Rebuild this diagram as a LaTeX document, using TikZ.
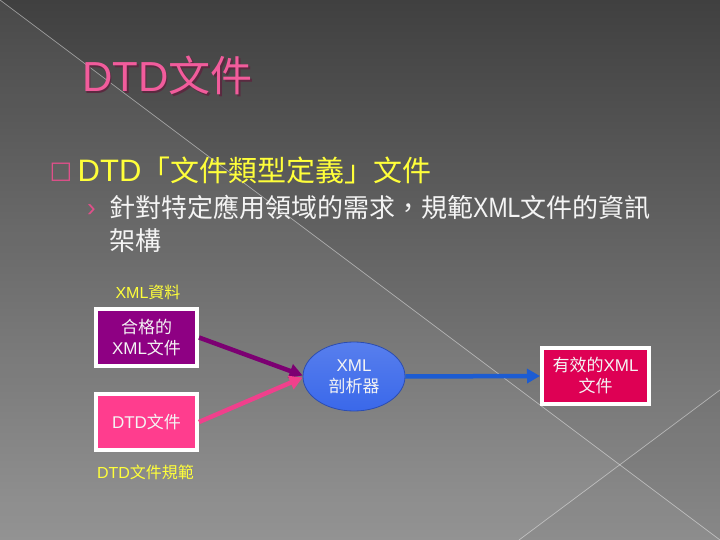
\documentclass[tikz,border=0pt]{standalone}
\usepackage{fontspec}
\setmainfont{Liberation Sans}
\newfontfamily\cjk{Noto Sans CJK TC}
\newfontfamily\dejavu{DejaVu Sans}
\usetikzlibrary{arrows.meta,shapes.geometric}
\definecolor{bgtop}{HTML}{404040}
\definecolor{bgbot}{HTML}{8E8E8E}
\definecolor{titlepink}{HTML}{F25C9C}
\definecolor{titleshadow}{HTML}{5A2A40}
\definecolor{bulletpink}{HTML}{E0508A}
\definecolor{yellowtxt}{HTML}{FFFF3A}
\definecolor{whitetxt}{HTML}{F4F4F4}
\definecolor{purplebox}{HTML}{8E0083}
\definecolor{pinkbox}{HTML}{FF3D8E}
\definecolor{crimsonbox}{HTML}{DE0054}
\definecolor{ellfill}{HTML}{3A68EA}
\definecolor{elledge}{HTML}{2C4DB0}
\definecolor{purplearrow}{HTML}{7C0072}
\definecolor{pinkarrow}{HTML}{F0408C}
\definecolor{bluearrow}{HTML}{1C5CD2}
\tikzset{
  boxnode/.style={draw=white, line width=4pt, inner sep=0pt, align=center,
    text=whitetxt, font=\fontsize{17}{21}\selectfont},
  lbl/.style={inner sep=0pt, text=yellowtxt, font=\fontsize{16}{20}\selectfont},
  conn/.style={line width=4.5pt, -{Triangle[length=13pt,width=14pt]}},
  bgline/.style={draw=white, draw opacity=0.45, line width=0.7pt}
}
\begin{document}
\begin{tikzpicture}[x=1pt,y=-1pt]
\useasboundingbox (0,0) rectangle (720,540);
% background
\shade[top color=bgtop, bottom color=bgbot] (0,0) rectangle (720,540);
\fill[white, opacity=0.05] (0,0) -- (720,540) -- (0,540) -- cycle;
\fill[black, opacity=0.04] (720,390) -- (720,540) -- (519,540) -- cycle;
\coordinate (d1a) at (0,0);
\coordinate (d1b) at (720,540);
\coordinate (d2a) at (720,390);
\coordinate (d2b) at (519,540);
\draw[bgline] (d1a) -- (d1b);
\draw[bgline] (d2a) -- (d2b);
% title
\node[anchor=base west, inner sep=0pt, text=titleshadow] (titleshadow) at (83.5,93.5)
  {\fontsize{42}{48}\selectfont DTD{\cjk 文件}};
\node[anchor=base west, inner sep=0pt, text=titlepink] (title) at (82,92)
  {\fontsize{42}{48}\selectfont DTD{\cjk 文件}};
% bullet 1
\node[inner sep=0pt, text=bulletpink] (sq) at (61,172.5) {\dejavu\fontsize{24}{28}\selectfont □};
\node[anchor=base west, inner sep=0pt, text=yellowtxt] (b1) at (77.5,182)
  {\fontsize{31}{36}\selectfont DTD{\cjk\fontsize{29}{36}\selectfont 「文件類型定義」文件}};
% sub bullet
\node[inner sep=0pt, text=bulletpink] (arr) at (91.5,211) {\fontsize{26}{30}\selectfont ›};
\node[anchor=base west, inner sep=0pt, text=whitetxt] (s1) at (109,218)
  {{\cjk\fontsize{26}{30}\selectfont 針對特定應用領域的需求，規範}\scalebox{0.82}[1]{\fontsize{28}{30}\selectfont XML}{\cjk\fontsize{26}{30}\selectfont 文件的資訊}};
\node[anchor=base west, inner sep=0pt, text=whitetxt] (s2) at (109,250)
  {{\cjk\fontsize{26}{30}\selectfont 架構}};
% diagram
\node[lbl] (lblxml) at (148,292.5) {XML{\cjk 資料}};
\node[boxnode, fill=purplebox, minimum width=101pt, minimum height=57pt] (xmldoc) at (146.5,337.5)
  {{\cjk 合格的}\\XML{\cjk 文件}};
\node[boxnode, fill=pinkbox, minimum width=101pt, minimum height=56pt] (dtddoc) at (146.5,422)
  {DTD{\cjk 文件}};
\node[lbl] (lbldtd) at (145.5,472.5) {DTD{\cjk 文件規範}};
\node[ellipse, draw=elledge, line width=0.8pt, top color=ellfill!85!white, bottom color=ellfill,
  minimum width=102pt, minimum height=69pt, inner sep=0pt, align=center, text=whitetxt,
  font=\fontsize{17}{21}\selectfont] (parser) at (354,376.5)
  {XML\\{\cjk 剖析器}};
\node[boxnode, fill=crimsonbox, minimum width=107pt, minimum height=56pt] (valid) at (595.5,376)
  {{\cjk 有效的}XML\\{\cjk 文件}};
% connectors
\draw[conn, draw=purplearrow, fill=purplearrow] (xmldoc.east) -- ([yshift=1pt]parser.west);
\draw[conn, draw=pinkarrow, fill=pinkarrow] (dtddoc.east) -- ([yshift=-1pt]parser.west);
\draw[conn, draw=bluearrow, fill=bluearrow] (parser.east) -- (valid.west);
\end{tikzpicture}
\end{document}
